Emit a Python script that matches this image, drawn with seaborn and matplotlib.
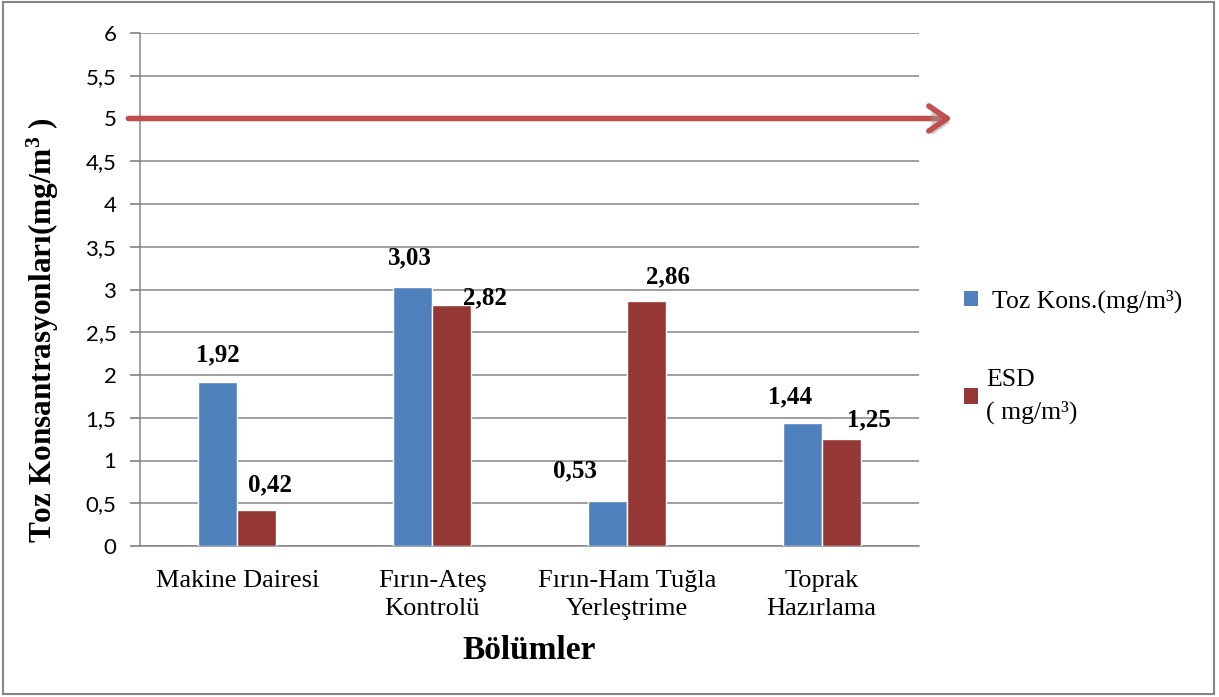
import matplotlib
matplotlib.use("Agg")
import matplotlib.pyplot as plt
import matplotlib.patheffects as pe
from matplotlib.patches import Rectangle
import pandas as pd
import seaborn as sns

# Dust measurements per department
categories = ["Makine Dairesi", "Fırın-Ateş\nKontrolü", "Fırın-Ham Tuğla\nYerleştrime", "Toprak\nHazırlama"]
series_names = [" Toz Kons.(mg/m³)", "ESD\n( mg/m³)"]
toz_kons = [1.92, 3.03, 0.53, 1.44]
esd = [0.42, 2.82, 2.86, 1.25]
limit_value = 5.0
y_ticks = [0, 0.5, 1, 1.5, 2, 2.5, 3, 3.5, 4, 4.5, 5, 5.5, 6]
y_tick_labels = ["0", "0,5", "1", "1,5", "2", "2,5", "3", "3,5", "4", "4,5", "5", "5,5", "6"]

# label offsets (pixels) relative to each bar top, per series
label_offsets = [
    [(0, 27), (-3, 29), (-32, 30), (-12, 26)],
    [(13, 25), (33, 7), (22, 25), (28, 19)],
]

sns.set_theme(style="white")
plt.rcParams["font.family"] = ["Liberation Serif", "DejaVu Serif"]
plt.rcParams["mathtext.fontset"] = "custom"
plt.rcParams["mathtext.rm"] = "Liberation Serif"
plt.rcParams["mathtext.bf"] = "Liberation Serif:bold"
plt.rcParams["text.color"] = "black"
plt.rcParams["axes.labelcolor"] = "black"
plt.rcParams["xtick.labelcolor"] = "black"
plt.rcParams["ytick.labelcolor"] = "black"

df = pd.DataFrame({
    "Bölüm": categories * 2,
    "Seri": [series_names[0]] * 4 + [series_names[1]] * 4,
    "Değer": toz_kons + esd,
})

blue = "#4F81BD"
red = "#953735"
grid_c = "#868686"

fig = plt.figure(figsize=(12.19, 6.97), dpi=100)
ax = fig.add_axes([140 / 1219, 1 - 546 / 697, 779 / 1219, 513 / 697])

sns.barplot(data=df, x="Bölüm", y="Değer", hue="Seri", palette=[blue, red],
            width=0.4, saturation=1, ax=ax, legend=True, zorder=3)

ax.set_xlim(-0.5, 3.5)
ax.set_ylim(0, 6)
ax.set_yticks(y_ticks)
ax.set_yticklabels(y_tick_labels, fontfamily="Lato", fontsize=16, color="black")
ax.yaxis.grid(True, color=grid_c, lw=1.1)
ax.set_axisbelow(True)
for s in ["top", "right"]:
    ax.spines[s].set_visible(False)
ax.spines["left"].set_color(grid_c)
ax.spines["bottom"].set_color(grid_c)
ax.spines["left"].set_linewidth(1.1)
ax.spines["bottom"].set_linewidth(1.1)
ax.tick_params(axis="y", which="both", left=True, length=7, color=grid_c, pad=10)
ax.tick_params(axis="x", bottom=False, pad=11)
ax.set_xticks(range(len(categories)))
ax.set_xticklabels(categories, fontsize=19, linespacing=1.35, color="black")

ax.set_xlabel("Bölümler", fontsize=24, fontweight="bold", labelpad=11, color="black")
ax.set_ylabel(r"Toz Konsantrasyonları(mg/m$\mathbf{^3}$ )", fontsize=22.5,
              fontweight="bold", va="center", color="black")
ax.yaxis.set_label_coords(-0.125, 0.42)

# value labels
for si, vals in enumerate([toz_kons, esd]):
    cont = ax.containers[si]
    for bi, (bar, v) in enumerate(zip(cont.patches, vals)):
        x = bar.get_x() + bar.get_width() / 2
        dx, dy = label_offsets[si][bi]
        ax.annotate(f"{v:.2f}".replace(".", ","), (x, v), xytext=(dx, dy),
                    textcoords="offset pixels", ha="center", va="center",
                    fontsize=18, fontweight="bold", color="black", zorder=5)

# limit arrow
arr = ax.annotate("", xy=(3.67, limit_value), xytext=(-0.56, limit_value),
                  xycoords="data",
                  arrowprops=dict(arrowstyle="->,head_length=1.1,head_width=0.75",
                                  color="#C0504D", lw=4, shrinkA=0, shrinkB=0,
                                  capstyle="round", joinstyle="round"),
                  annotation_clip=False, zorder=6)
arr.arrow_patch.set_path_effects([
    pe.SimplePatchShadow(offset=(2, -3), shadow_rgbFace="#999999", alpha=0.5),
    pe.Normal()])

# legend
leg = ax.legend(loc="upper left", bbox_to_anchor=(1.045, 0.52), frameon=False,
                fontsize=18.5, handlelength=0.55, handleheight=0.55, handletextpad=0.3,
                labelspacing=2.2, borderaxespad=0)
for t in leg.get_texts():
    t.set_linespacing(1.5)
    t.set_color("black")
for h in leg.legend_handles:
    h.set_edgecolor("none")

# outer frame
fig.add_artist(Rectangle((3 / 1219, 3 / 697), 1211 / 1219, 692 / 697,
                         transform=fig.transFigure, fill=False,
                         edgecolor=grid_c, lw=1.5))

fig.savefig("out.png", dpi=100)
